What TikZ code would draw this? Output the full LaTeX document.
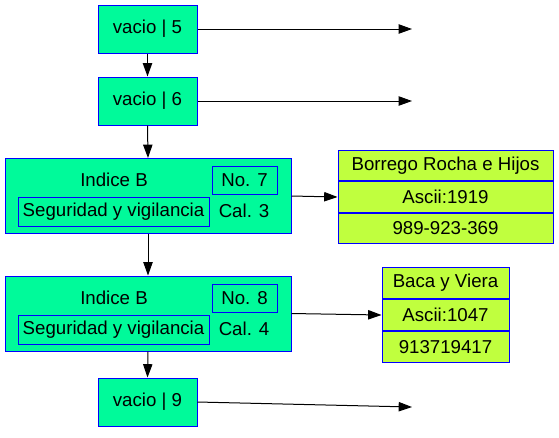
\documentclass[tikz,border=0pt]{standalone}
\usepackage{fontspec}
\setmainfont{Liberation Sans}
\usetikzlibrary{arrows.meta, positioning}
\definecolor{cellgreen}{RGB}{0, 250, 154}
\definecolor{recyellow}{RGB}{192, 255, 62}
\definecolor{cellblue}{RGB}{0, 0, 255}

\begin{document}
\begin{tikzpicture}[
        x=0.75pt, y=-0.75pt,
        >={Triangle[length=10pt, width=7pt]},
        cell/.style={rectangle, draw=cellblue, line width=0.75pt, fill=cellgreen, minimum width=74.25pt, minimum height=36pt, inner sep=0pt, font=\fontsize{14}{16}\selectfont},
        block/.style={rectangle, draw=cellblue, line width=0.75pt, fill=cellgreen, minimum width=214.5pt, minimum height=56.25pt, inner sep=0pt},
        numbox/.style={rectangle, draw=cellblue, line width=0.75pt, minimum width=48.75pt, minimum height=21pt, inner sep=0pt, font=\fontsize{14}{16}\selectfont},
        catbox/.style={rectangle, draw=cellblue, line width=0.75pt, minimum width=143.25pt, minimum height=21.75pt, inner sep=0pt, font=\fontsize{14}{16}\selectfont},
        plain/.style={inner sep=0pt, font=\fontsize{14}{16}\selectfont},
        field/.style={rectangle, draw=cellblue, line width=0.75pt, fill=recyellow, minimum height=22.75pt, inner sep=0pt, font=\fontsize{14}{16}\selectfont},
        link/.style={->, line width=0.75pt, color=black}
    ]
    \useasboundingbox (0,0) rectangle (559,437);

    %% --- Empty cells ---
    \node[cell] (v5) at (147.5, 29)  {vacio | 5};
    \node[cell] (v6) at (147.5, 101) {vacio | 6};
    \node[cell] (v9) at (147.5, 402) {vacio | 9};

    %% --- Index block No. 7 ---
    \node[block] (idx7) at (148, 196) {};
    \node[plain]  (idx7lbl) at (114, 180)     {Indice B};
    \node[numbox] (no7)     at (244.5, 180)   {No. 7};
    \node[catbox] (seg7)    at (113.5, 211.5) {Seguridad y vigilancia};
    \node[plain]  (cal3)    at (244, 211)     {Cal. 3};

    %% --- Index block No. 8 ---
    \node[block] (idx8) at (148, 313.5) {};
    \node[plain]  (idx8lbl) at (114, 298)     {Indice B};
    \node[numbox] (no8)     at (244.5, 298)   {No. 8};
    \node[catbox] (seg8)    at (113.5, 329.5) {Seguridad y vigilancia};
    \node[plain]  (cal4)    at (244, 329)     {Cal. 4};

    %% --- Records ---
    \node[field, minimum width=161.25pt, anchor=north] (borr1) at (445.5, 150) {Borrego Rocha e Hijos};
    \node[field, minimum width=161.25pt, below=0pt of borr1] (borr2) {Ascii:1919};
    \node[field, minimum width=161.25pt, below=0pt of borr2] (borr3) {989-923-369};

    \node[field, minimum width=95.25pt, minimum height=23.25pt, anchor=north] (baca1) at (445.5, 267) {Baca y Viera};
    \node[field, minimum width=95.25pt, minimum height=23.25pt, below=0pt of baca1] (baca2) {Ascii:1047};
    \node[field, minimum width=95.25pt, minimum height=23.25pt, below=0pt of baca2] (baca3) {913719417};

    %% --- Free ends of the empty cells ---
    \coordinate (n5) at (412, 29);
    \coordinate (n6) at (412, 101);
    \coordinate (n9) at (412, 407);

    %% --- Chain ---
    \draw[link] (v5.south)   -- (v6.north);
    \draw[link] (v6.south)   -- (idx7.north);
    \draw[link] (idx7.south) -- (idx8.north);
    \draw[link] (idx8.south) -- (v9.north);

    %% --- Side links ---
    \draw[link] (v5.east)   -- (n5);
    \draw[link] (v6.east)   -- (n6);
    \draw[link] (v9.east)   -- (n9);
    \draw[link] (idx7.east) -- (borr2.west);
    \draw[link] (idx8.east) -- (baca2.west);

\end{tikzpicture}
\end{document}
